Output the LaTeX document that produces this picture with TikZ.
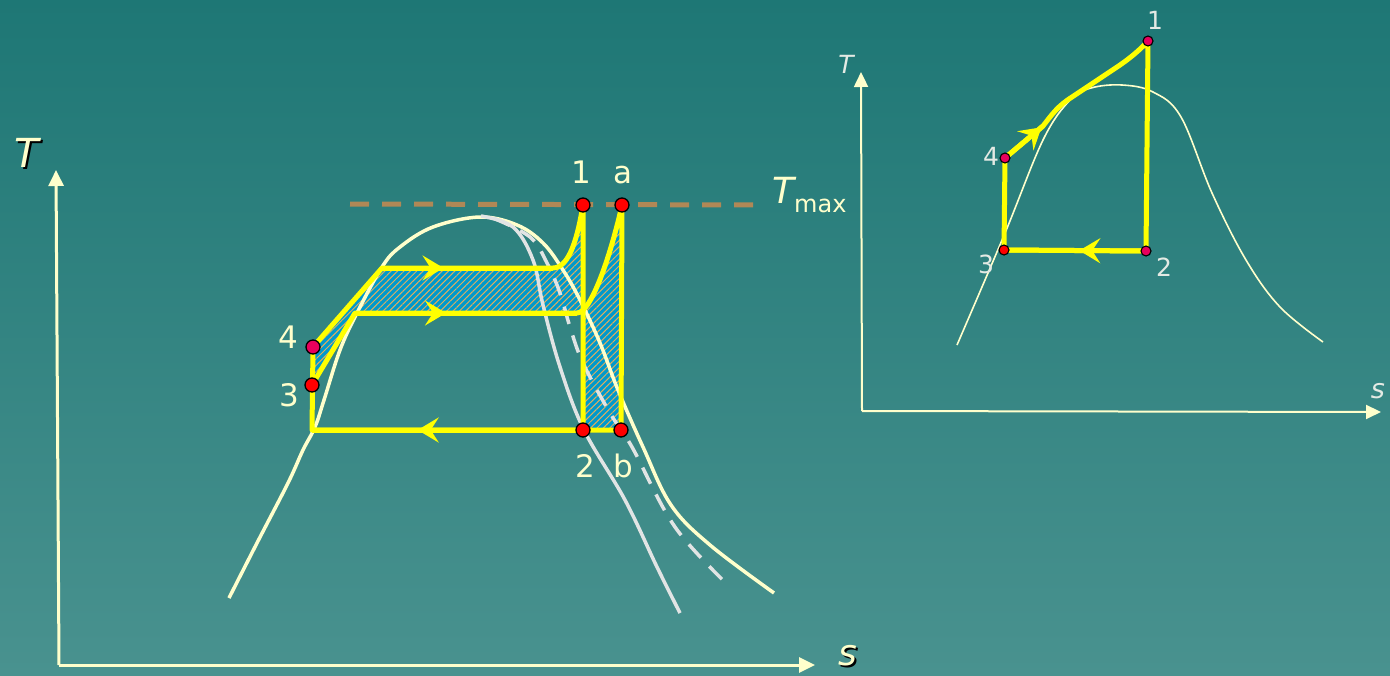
\documentclass[tikz,border=0pt]{standalone}
\usepackage{fontspec}
\setmainfont{DejaVu Sans}
\usetikzlibrary{arrows.meta,patterns.meta,decorations.markings}
\definecolor{bgtop}{RGB}{30,119,117}
\definecolor{bgbot}{RGB}{73,146,143}
\definecolor{cream}{RGB}{255,255,204}
\definecolor{yel}{RGB}{255,255,0}
\definecolor{tanline}{RGB}{176,136,86}
\definecolor{lgray}{RGB}{225,228,228}
\definecolor{hblue}{RGB}{0,153,204}
\definecolor{horange}{RGB}{222,175,95}
\definecolor{pinkdot}{RGB}{232,0,92}
\definecolor{lbl}{RGB}{228,234,228}
\begin{document}
\begin{tikzpicture}[x=1pt,y=-1pt,
  yl/.style={draw=yel, line width=5pt, line join=round},
  dome/.style={draw=cream, line width=3.5pt},
  grayline/.style={draw=lgray, line width=3.5pt},
  reddot/.style={circle, draw=black, line width=1.3pt, fill=red, minimum size=14pt, inner sep=0pt},
  pinkdotst/.style={reddot, fill=pinkdot},
  sreddot/.style={reddot, minimum size=10pt, line width=1.1pt},
  spinkdot/.style={sreddot, fill=pinkdot},
  lab/.style={text=cream, anchor=base, inner sep=0pt, font=\fontsize{31}{36}\selectfont},
  slab/.style={text=lbl, anchor=base, inner sep=0pt, font=\fontsize{25}{30}\selectfont},
  ahead/.style={postaction={decorate}, decoration={markings, mark=at position #1 with {\arrow[yel]{Stealth[length=21pt,width=25pt,inset=8pt]}}}},
  axis/.style={draw=cream, -{Triangle[length=16pt,width=15pt]}}
]
\shade[top color=bgtop,bottom color=bgbot] (0pt,0pt) rectangle (1390pt,-675pt);
\useasboundingbox (0,0) rectangle (1390,675);

% ---------- main diagram ----------
\coordinate (O) at (59,665);
\coordinate (Ty) at (56,170);
\coordinate (Sx) at (815,665);
\draw[axis, line width=3pt] (O) -- (Ty);
\draw[axis, line width=3pt] (O) -- (Sx);

\node[anchor=base west, inner sep=0pt, text=black, font=\fontsize{40}{44}\selectfont\itshape] (Tsh) at (16,169) {T};
\node[anchor=base west, inner sep=0pt, text=cream, font=\fontsize{40}{44}\selectfont\itshape] (Tlab) at (14,167) {T};
\node[anchor=base west, inner sep=0pt, text=black, font=\fontsize{36}{40}\selectfont\itshape] (Ssh) at (840,667) {s};
\node[anchor=base west, inner sep=0pt, text=cream, font=\fontsize{36}{40}\selectfont\itshape] (Slab) at (838,665) {s};

% cycle coordinates
\coordinate (P4) at (313,347);
\coordinate (P3) at (312,385);
\coordinate (Pbl) at (312,430);
\coordinate (U1) at (382,268);
\coordinate (U2) at (553,268);
\coordinate (P1) at (583,205);
\coordinate (P2) at (583,430);
\coordinate (L1) at (355,313);
\coordinate (L2) at (577,313);
\coordinate (Pa) at (622,205);
\coordinate (Pb) at (621,430);

% hatched area
\fill[hblue, even odd rule]
  (P4) -- (U1) -- (U2) .. controls (570,268) and (578,235) .. (P1) -- (P2) -- (Pbl) -- cycle
  (P3) -- (L1) -- (L2) .. controls (592,313) and (612,250) .. (Pa) -- (Pb) -- (Pbl) -- cycle;
\fill[pattern={Lines[angle=45,distance=4.5pt,line width=1pt]}, pattern color=horange, even odd rule]
  (P4) -- (U1) -- (U2) .. controls (570,268) and (578,235) .. (P1) -- (P2) -- (Pbl) -- cycle
  (P3) -- (L1) -- (L2) .. controls (592,313) and (612,250) .. (Pa) -- (Pb) -- (Pbl) -- cycle;

% Tmax line
\coordinate (tm0) at (350,204);
\coordinate (tm1) at (762,205);
\draw[tanline, line width=5pt, dash pattern=on 19pt off 13pt] (tm0) -- (tm1);
\node[anchor=base west, inner sep=0pt, text=cream] (Tmax) at (772,203)
  {\fontsize{36}{40}\selectfont\itshape T\upshape\fontsize{24}{28}\selectfont\raisebox{-9pt}{max}};

% saturation dome
\draw[dome] plot[smooth, tension=0.6] coordinates {(229,598) (257,543) (288,483) (303,450) (315,427) (324,400) (340,350) (357,313) (382,267) (400,247) (433,227) (480,217) (517,225) (543,243) (563,270) (580,300) (600,343) (618,390) (643,447) (671,505) (710,545) (774,593)};

% gray lines
\draw[grayline] plot[smooth, tension=0.6] coordinates {(481,216) (513,227) (533,260) (543,305) (560,367) (584,430) (625,500) (657,567) (680,613)};
\draw[grayline, dash pattern=on 18pt off 12pt] plot[smooth, tension=0.6] coordinates {(493,218) (530,237) (547,263) (560,293) (570,327) (583,363) (610,413) (632,447) (675,527) (730,587)};

% cycles
\draw[yl] (P4) -- (U1) -- (U2) .. controls (570,268) and (578,235) .. (P1) -- (P2) -- (Pbl) -- cycle;
\draw[yl] (P3) -- (L1) -- (L2) .. controls (592,313) and (612,250) .. (Pa) -- (Pb) -- (Pbl);
\draw[yl, ahead=0.36] (U1) -- (U2);
\draw[yl, ahead=0.41] (L1) -- (L2);
\draw[yl, ahead=0.61] (P2) -- (Pbl);

\node[reddot] (n1) at (P1) {};
\node[reddot] (na) at (Pa) {};
\node[reddot] (n2) at (P2) {};
\node[reddot] (nb) at (Pb) {};
\node[pinkdotst] (n4) at (P4) {};
\node[reddot] (n3) at (P3) {};

\node[lab] (l1) at (581,183) {1};
\node[lab] (la) at (623,183) {a};
\node[lab] (l4) at (288,348) {4};
\node[lab] (l3) at (289,406) {3};
\node[lab] (l2) at (585,477) {2};
\node[lab] (lb) at (623,477) {b};

% ---------- small diagram ----------
\coordinate (RO) at (862,411);
\coordinate (RTy) at (861,72);
\coordinate (RSx) at (1381,412);
\draw[draw=cream, line width=2pt, -{Triangle[length=15pt,width=14pt]}] (RO) -- (RTy);
\draw[draw=cream, line width=2pt, -{Triangle[length=15pt,width=14pt]}] (RO) -- (RSx);
\node[anchor=base, inner sep=0pt, text=lbl, font=\fontsize{25}{30}\selectfont\itshape] (RT) at (846,73) {T};
\node[anchor=base, inner sep=0pt, text=lbl, font=\fontsize{27}{30}\selectfont\itshape] (RS) at (1378,398) {s};

\draw[cream, line width=1.6pt] plot[smooth, tension=0.6] coordinates {(957,345) (1005,233) (1043,140) (1070,100) (1091,88) (1122,85) (1153,92) (1181,117) (1212,193) (1246,260) (1280,307) (1323,342)};

\coordinate (R1) at (1148,41);
\coordinate (R2) at (1146,251);
\coordinate (R3) at (1004,250);
\coordinate (R4) at (1005,158);
\coordinate (Rm) at (1043,126);
\draw[yl] (R4) -- (Rm) .. controls (1053,113) and (1058,106) .. (1072,97) -- (1114,69) .. controls (1128,60) and (1140,50) .. (R1) -- (R2) -- (R3) -- (R4);
\draw[yl, ahead=0.96] (R4) -- (Rm);
\draw[yl, ahead=0.47] (R2) -- (R3);

\node[spinkdot] (r1) at (R1) {};
\node[spinkdot] (r2) at (R2) {};
\node[sreddot] (r3) at (R3) {};
\node[spinkdot] (r4) at (R4) {};

\node[slab] (rl1) at (1155,29) {1};
\node[slab] (rl4) at (991,165) {4};
\node[slab] (rl3) at (986,273) {3};
\node[slab] (rl2) at (1164,276) {2};
\end{tikzpicture}
\end{document}
